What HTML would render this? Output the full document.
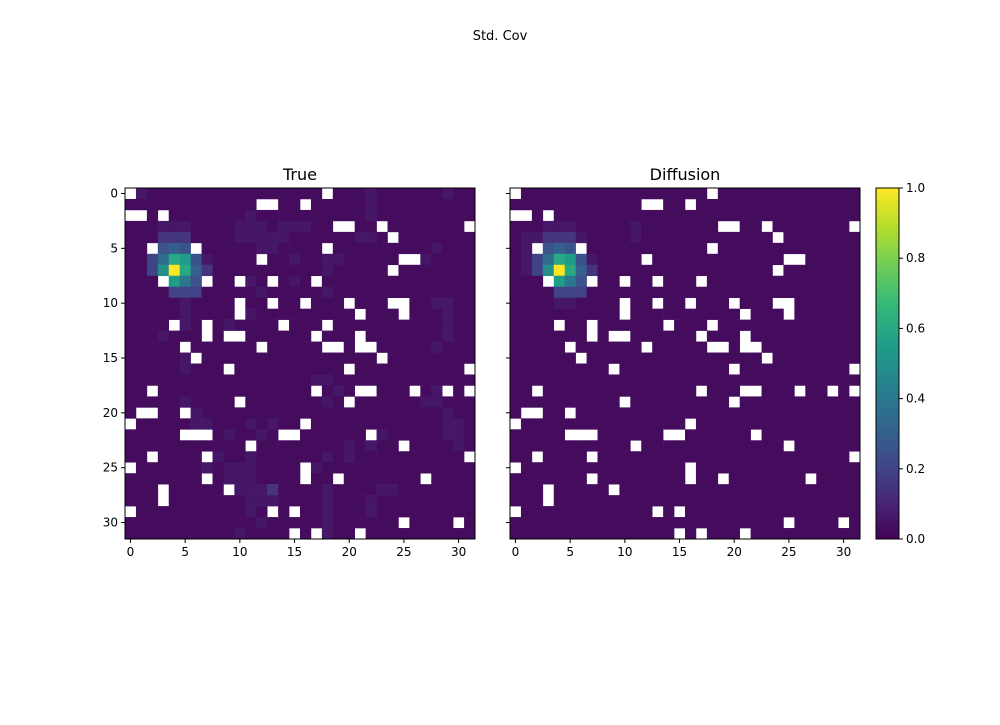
<!DOCTYPE html>
<html><head><meta charset="utf-8"><style>
body{margin:0;background:#fff;font-family:"Liberation Sans","DejaVu Sans",sans-serif}
svg text{font-family:"DejaVu Sans","Liberation Sans",sans-serif}
</style></head><body>
<svg id="fig" width="1000" height="720" xmlns="http://www.w3.org/2000/svg">
<rect width="1000" height="720" fill="#fff"/>
<text x="500" y="40" font-size="13" text-anchor="middle">Std. Cov</text>
</svg>
<script>
// '.' = NaN; value from level char (see levelValue)
const LEVELS = "0123456789abcdefghijk";
const trueData = [
".2111111"+"11111111"+"11.11121"+"11111211",
"11111111"+"1111..11"+".1111121"+"11111111",
"..1.1111"+"11121111"+"11111121"+"11111111",
"11122211"+"11222122"+"211..11."+"1111111.",
"11133311"+"11222221"+"11111221"+".1111111",
"11.565.1"+"11112211"+"11.11111"+"11112111",
"1147cb52"+"1111.112"+"11221111"+"1..21111",
"114akc63"+"11111111"+"11211111"+".1111111",
"111.b85."+"11.21.12"+"1.111111"+"11111111",
"11114441"+"11112111"+"11211111"+"11111111",
"11111211"+"11.11.11"+".111.111"+"..112211",
"11111211"+"11.21111"+"11111.11"+"1.111211",
"1111.21."+"121111.1"+"11.11111"+"11111211",
"1112111."+"1..11111"+"1.111.11"+"11111211",
"11111.11"+"1111.111"+"11..1..1"+"11112111",
"111112.1"+"11111111"+"1111111."+"11111111",
"11111211"+"1.111111"+"1111.111"+"1111111.",
"11111111"+"11111111"+"12211111"+"11111111",
"11.11111"+"11111111"+"1.121..1"+"11.12.1.",
"11111211"+"11.11111"+"1121.111"+"11122111",
"1..11.21"+"11111111"+"11111111"+"11111211",
".1111122"+"11121211"+".1111111"+"11111221",
"11111..."+"121121.."+"111111.2"+"11111221",
"11111111"+"111.1111"+"11112121"+"1.111121",
"11.1111."+"21121111"+"11212111"+"1111111.",
".1111112"+"12221111"+".2111111"+"11111111",
"1111111."+"12221111"+".11.1111"+"111.1111",
"111.1111"+"1.222311"+"11211112"+"21111111",
"111.1111"+"11122211"+"11211121"+"11111111",
".1111111"+"11121.1."+"11211121"+"11111111",
"11111111"+"11112111"+"11211111"+"1.1111.1",
"11111111"+"1121111."+"1.211.11"+"11111111"
];
const diffData = [
".1111111"+"11111111"+"11.11111"+"11111111",
"11111111"+"1111..11"+".1111111"+"11111111",
"..1.1111"+"11111111"+"11111111"+"11111111",
"11122211"+"11121111"+"111..11."+"1111111.",
"12233321"+"11121111"+"11111111"+".1111111",
"12.565.1"+"11111111"+"11.11111"+"11111111",
"1247cb52"+"1111.111"+"11111111"+"1..11111",
"124akc63"+"11111111"+"11111111"+".1111111",
"111.b85."+"11.11.11"+"1.111111"+"11111111",
"11114441"+"11111111"+"11111111"+"11111111",
"11112211"+"11.11.11"+".111.111"+"..111111",
"11111111"+"11.11111"+"11111.11"+"1.111111",
"1111.11."+"111111.1"+"11.11111"+"11111111",
"1111111."+"1..11111"+"1.111.11"+"11111111",
"11111.11"+"1111.111"+"11..1..1"+"11111111",
"111111.1"+"11111111"+"1111111."+"11111111",
"11111111"+"1.111111"+"1111.111"+"1111111.",
"11111111"+"11111111"+"11111111"+"11111111",
"11.11111"+"11111111"+"1.111..1"+"11.11.1.",
"11111111"+"11.11111"+"1111.111"+"11111111",
"1..11.11"+"11111111"+"11111111"+"11111111",
".1111111"+"11111111"+".1111111"+"11111111",
"11111..."+"111111.."+"111111.1"+"11111111",
"11111111"+"111.1111"+"11111111"+"1.111111",
"11.1111."+"11111111"+"11111111"+"1111111.",
".1111111"+"11111111"+".1111111"+"11111111",
"1111111."+"11111111"+".11.1111"+"111.1111",
"111.1111"+"1.111111"+"11111111"+"11111111",
"111.1111"+"11111111"+"11111111"+"11111111",
".1111111"+"11111.1."+"11111111"+"11111111",
"11111111"+"11111111"+"11111111"+"1.1111.1",
"11111111"+"1111111."+"1.111.11"+"11111111"
];
const xTicks = [0,5,10,15,20,25,30];
const yTicks = [0,5,10,15,20,25,30];
const cbTicks = [0.0,0.2,0.4,0.6,0.8,1.0];
const cbTickLabels = ["0.0","0.2","0.4","0.6","0.8","1.0"];

function levelValue(c){const i=LEVELS.indexOf(c);return i<=2? i*0.03 : i/20;}
const VIR=[[68,1,84],[72,40,120],[62,74,137],[49,104,142],[38,130,142],[31,158,137],[53,183,121],[109,205,89],[180,222,44],[253,231,37]];
function viridis(t){t=Math.max(0,Math.min(1,t));const p=t*9,i=Math.min(8,Math.floor(p)),f=p-i;const a=VIR[i],b=VIR[i+1];return `rgb(${a.map((v,k)=>Math.round(v+(b[k]-v)*f)).join(',')})`;}
const NS="http://www.w3.org/2000/svg";
const svg=document.getElementById('fig');
function mk(tag,attrs,parent){const e=document.createElementNS(NS,tag);for(const k in attrs)e.setAttribute(k,attrs[k]);(parent||svg).appendChild(e);return e;}
const N=32,TOP=188,H=351;
function panel(data,x0,title,name,showY){
  const W=350,cw=W/N,ch=H/N;
  const g=mk('g',{});
  
  
  const sx=v=>x0+(v+0.5)*cw, sy=v=>TOP+(v+0.5)*ch;
  data.forEach((row,r)=>{[...row].forEach((c,col)=>{
    if(c==='.')return;
    const v=levelValue(c);
    const rc=mk('rect',{x:(x0+col*cw).toFixed(2),y:(TOP+r*ch).toFixed(2),width:(cw+0.3).toFixed(2),height:(ch+0.3).toFixed(2),fill:viridis(v)},g);
    
    
  });});
  const fr=mk('rect',{x:x0,y:TOP,width:W,height:H,fill:'none',stroke:'#000','stroke-width':1},g);
  
  
  const t=mk('text',{x:x0+W/2,y:TOP-8,'font-size':16,'text-anchor':'middle'},g);t.textContent=title;
  
  
  xTicks.forEach(v=>{const x=sx(v);mk('line',{x1:x,x2:x,y1:TOP+H,y2:TOP+H+4,stroke:'#000'},g);
    const tx=mk('text',{x:x,y:TOP+H+17,'font-size':12,'text-anchor':'middle'},g);tx.textContent=v;
    
    });
  yTicks.forEach(v=>{const y=sy(v);mk('line',{x1:x0-4,x2:x0,y1:y,y2:y,stroke:'#000'},g);
    if(showY){const ty=mk('text',{x:x0-7,y:y+4,'font-size':12,'text-anchor':'end'},g);ty.textContent=v;
    
    }});
}
panel(trueData,125,'True','true-heatmap',true);
panel(diffData,510,'Diffusion','diffusion-heatmap',false);
const cbX=876,cbW=23;
const cb=mk('g',{});


for(let i=0;i<100;i++){mk('rect',{x:cbX,y:(TOP+H-(i+1)*H/100).toFixed(2),width:cbW,height:(H/100+0.5).toFixed(2),fill:viridis((i+0.5)/100)},cb);}
mk('rect',{x:cbX,y:TOP,width:cbW,height:H,fill:'none',stroke:'#000'},cb);
cbTicks.forEach((v,i)=>{const y=TOP+H-v*H;mk('line',{x1:cbX+cbW,x2:cbX+cbW+4,y1:y,y2:y,stroke:'#000'},cb);
  const t=mk('text',{x:cbX+cbW+7,y:y+4,'font-size':12},cb);t.textContent=cbTickLabels[i];
  
  });
</script>
</body></html>
